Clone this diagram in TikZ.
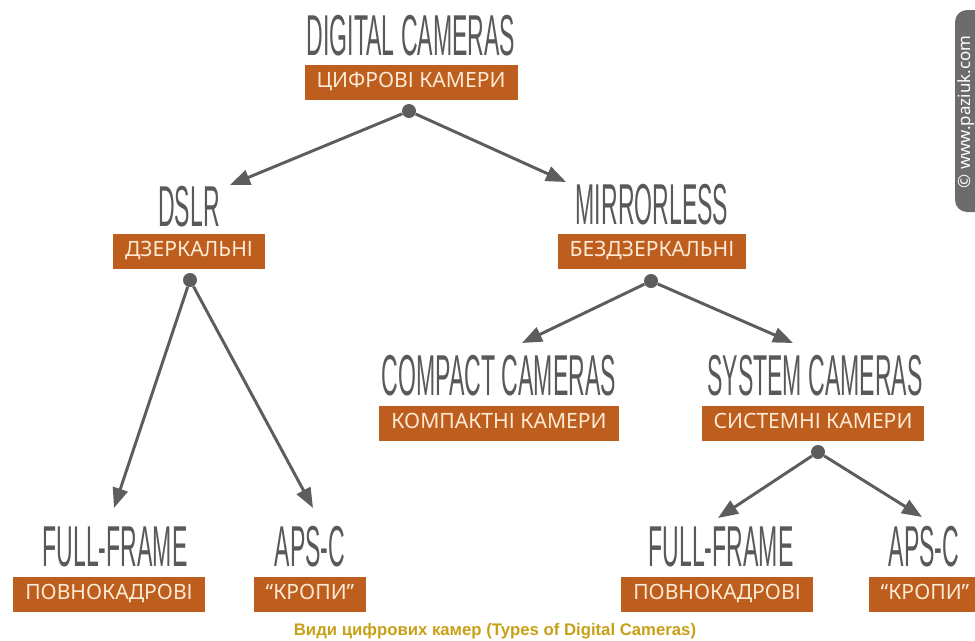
\documentclass[tikz,border=0pt]{standalone}
\usepackage{fontspec}
\usetikzlibrary{arrows.meta,positioning}
\usepackage{xcolor}

\newfontfamily\headfont[FakeStretch=0.40]{Liberation Sans}
\newfontfamily\boxfont{Noto Sans}
\newfontfamily\capfont{Liberation Sans}

\definecolor{headgray}{RGB}{88,89,91}
\definecolor{rust}{RGB}{190,94,30}
\definecolor{cream}{RGB}{253,234,212}
\definecolor{arrowgray}{RGB}{92,93,95}
\definecolor{gold}{RGB}{200,160,22}
\definecolor{markgray}{RGB}{108,108,108}

\tikzset{
    head/.style={inner sep=0pt, text=headgray, font=\headfont\fontsize{41pt}{41pt}\selectfont},
    uabox/.style={fill=rust, text=cream, inner xsep=0.3cm, inner ysep=0pt,
        minimum height=0.875cm, text height=0.72em, text depth=0pt,
        font=\boxfont\fontsize{15pt}{15pt}\selectfont},
    dot/.style={circle, fill=arrowgray, inner sep=0pt, minimum size=0.35cm},
    arr/.style={-{Triangle[length=0.5cm, width=0.38cm]}, line width=2.1pt, draw=arrowgray},
}

\begin{document}
\begin{tikzpicture}[x=0.025cm, y=-0.025cm]
                \useasboundingbox (0,0) rectangle (975,640);

                % level 0
                \node[head]  (digital)    at (411,  36) {DIGITAL CAMERAS};
                \node[uabox] (digitalua)  at (411,  82) {ЦИФРОВІ КАМЕРИ};
                \node[dot]   (digitaldot) at (409, 111) {};

                % level 1
                \node[head]  (dslr)       at (189, 207) {DSLR};
                \node[uabox] (dslrua)     at (189, 251) {ДЗЕРКАЛЬНІ};
                \node[dot]   (dslrdot)    at (190, 280) {};
                \node[head]  (mirror)     at (652, 205) {MIRRORLESS};
                \node[uabox] (mirrorua)   at (652, 251) {БЕЗДЗЕРКАЛЬНІ};
                \node[dot]   (mirrordot)  at (651, 281) {};

                % level 2
                \node[head]  (compact)    at (499, 376) {COMPACT CAMERAS};
                \node[uabox] (compactua)  at (499, 423) {КОМПАКТНІ КАМЕРИ};
                \node[head]  (system)     at (815, 376) {SYSTEM CAMERAS};
                \node[uabox] (systemua)   at (813, 423) {СИСТЕМНІ КАМЕРИ};
                \node[dot]   (systemdot)  at (818, 452) {};

                % level 3
                \node[head]  (fullleft)   at (115, 547) {FULL-FRAME};
                \node[uabox] (fullleftua) at (109, 594) {ПОВНОКАДРОВІ};
                \node[head]  (apsleft)    at (310, 547) {APS-C};
                \node[uabox] (apsleftua)  at (310, 594) {“КРОПИ”};
                \node[head]  (fullright)  at (721, 547) {FULL-FRAME};
                \node[uabox] (fullrightua) at (717, 594) {ПОВНОКАДРОВІ};
                \node[head]  (apsright)   at (924, 547) {APS-C};
                \node[uabox] (apsrightua) at (925, 594) {“КРОПИ”};

                % arrow tips
                \coordinate (dslrtip)      at (230, 185);
                \coordinate (mirrortip)    at (566, 182);
                \coordinate (compacttip)   at (522, 343);
                \coordinate (systemtip)    at (793, 343);
                \coordinate (fulllefttip)  at (114, 508);
                \coordinate (apslefttip)   at (313, 508);
                \coordinate (fullrighttip) at (718, 518);
                \coordinate (apsrighttip)  at (922, 517);

                \draw[arr] (digitaldot) -- (dslrtip);
                \draw[arr] (digitaldot) -- (mirrortip);
                \draw[arr] (mirrordot) -- (compacttip);
                \draw[arr] (mirrordot) -- (systemtip);
                \draw[arr] (dslrdot) -- (fulllefttip);
                \draw[arr] (dslrdot) -- (apslefttip);
                \draw[arr] (systemdot) -- (fullrighttip);
                \draw[arr] (systemdot) -- (apsrighttip);

                % caption and mark
                \node[text=gold, font=\capfont\bfseries\fontsize{11.9pt}{13pt}\selectfont] (caption) at (495, 631) {Види цифрових камер (Types of Digital Cameras)};
                \fill[markgray, rounded corners=0.3cm] (955, 10) rectangle (995, 212);
                \node[rotate=90, text=white, font=\boxfont\fontsize{12pt}{12pt}\selectfont] (mark) at (966, 112) {© www.paziuk.com};
            \end{tikzpicture}
\end{document}
